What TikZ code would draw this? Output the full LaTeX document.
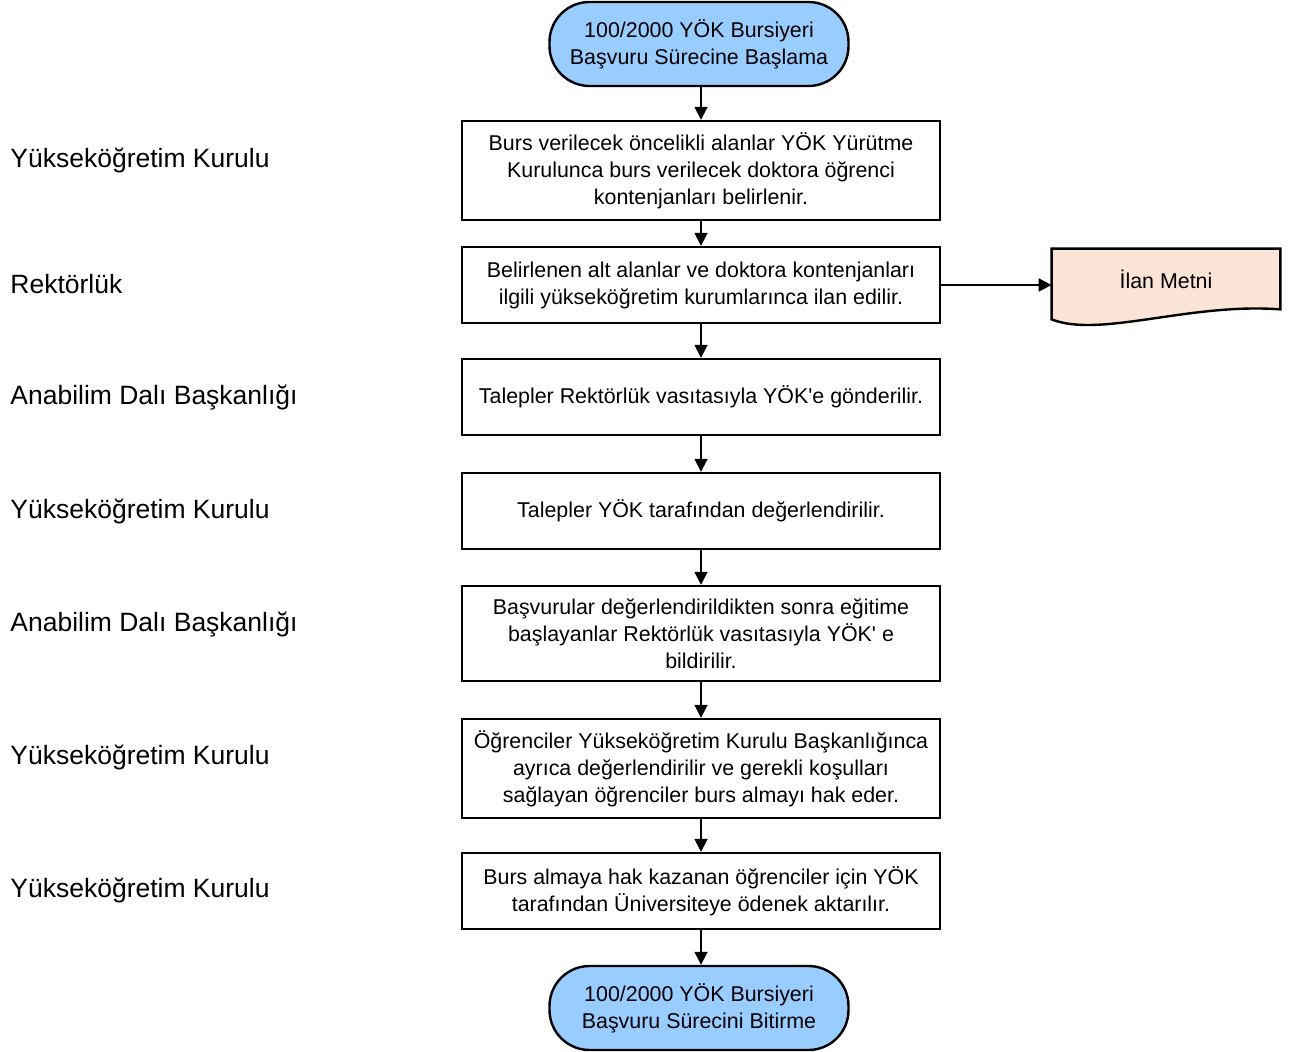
\documentclass[tikz,border=0pt]{standalone}
\usepackage{fontspec}
\setmainfont{Liberation Sans}[Ligatures=TeXOff]
\usetikzlibrary{arrows.meta}
\usetikzlibrary{backgrounds}
\usetikzlibrary{calc}
\definecolor{tblue}{RGB}{153, 204, 255}
\definecolor{dpeach}{RGB}{251, 228, 213}
\tikzset{stepbox/.style = {draw, line width=1.2pt, minimum width=239pt, align=center,
                           font=\fontsize{10.7}{13.5}\selectfont}}
\tikzset{term/.style = {draw, line width=1.2pt, fill=tblue, rounded corners=20pt,
                        minimum width=149.5pt, minimum height=42pt, align=center,
                        font=\fontsize{10.7}{13.5}\selectfont}}
\tikzset{docbox/.style = {minimum width=114pt, minimum height=30pt,
                          font=\fontsize{10.7}{13.5}\selectfont}}
\tikzset{unit/.style = {anchor=west, inner sep=0, font=\fontsize{13.25}{16}\selectfont}}
\tikzset{arr/.style = {-{Triangle[length=6.5pt, width=6.5pt]}, line width=0.9pt}}

\begin{document}
\begin{tikzpicture}[x=0.5pt, y=-0.5pt]
    \useasboundingbox (0, 0) rectangle (1290, 1052);

    % units on the left
    \node [unit] (u1) at (10, 160) {Yükseköğretim Kurulu};
    \node [unit] (u2) at (10, 284) {Rektörlük};
    \node [unit] (u3) at (10, 398) {Anabilim Dalı Başkanlığı};
    \node [unit] (u4) at (10, 511) {Yükseköğretim Kurulu};
    \node [unit] (u5) at (10, 625) {Anabilim Dalı Başkanlığı};
    \node [unit] (u6) at (10, 757) {Yükseköğretim Kurulu};
    \node [unit] (u7) at (10, 890) {Yükseköğretim Kurulu};

    % flow
    \node [term] (start) at (699, 44) {100/2000 YÖK Bursiyeri\\Başvuru Sürecine Başlama};
    \node [stepbox, minimum height=49.5pt] (b1) at (701, 170.5)
      {Burs verilecek öncelikli alanlar YÖK Yürütme\\Kurulunca burs verilecek doktora öğrenci\\kontenjanları belirlenir.};
    \node [stepbox, minimum height=38pt] (b2) at (701, 285)
      {Belirlenen alt alanlar ve doktora kontenjanları\\ilgili yükseköğretim kurumlarınca ilan edilir.};
    \node [stepbox, minimum height=38pt] (b3) at (701, 397)
      {Talepler Rektörlük vasıtasıyla YÖK'e gönderilir.};
    \node [stepbox, minimum height=38pt] (b4) at (701, 511)
      {Talepler YÖK tarafından değerlendirilir.};
    \node [stepbox, minimum height=47.5pt] (b5) at (701, 633.5)
      {Başvurular değerlendirildikten sonra eğitime\\başlayanlar Rektörlük vasıtasıyla YÖK' e\\bildirilir.};
    \node [stepbox, minimum height=49.5pt] (b6) at (701, 768.5)
      {Öğrenciler Yükseköğretim Kurulu Başkanlığınca\\ayrıca değerlendirilir ve gerekli koşulları\\sağlayan öğrenciler burs almayı hak eder.};
    \node [stepbox, minimum height=38pt] (b7) at (701, 891)
      {Burs almaya hak kazanan öğrenciler için YÖK\\tarafından Üniversiteye ödenek aktarılır.};
    \node [term] (stop) at (699, 1008) {100/2000 YÖK Bursiyeri\\Başvuru Sürecini Bitirme};

    % document
    \node [docbox] (ilan) at (1166, 279) {İlan Metni};
    \begin{scope}[on background layer]
      \draw [line width=1.2pt, fill=dpeach] (ilan.north west) -- (ilan.north east) -- (ilan.south east)
        .. controls +(-90, -7) and +(48, 19) .. ($(ilan.south west) + (0, 10)$) -- cycle;
    \end{scope}

    \draw [arr] (start.south -| b1.north) -- (b1.north);
    \draw [arr] (b1) -- (b2);
    \draw [arr] (b2) -- (b3);
    \draw [arr] (b3) -- (b4);
    \draw [arr] (b4) -- (b5);
    \draw [arr] (b5) -- (b6);
    \draw [arr] (b6) -- (b7);
    \draw [arr] (b7.south) -- (b7.south |- stop.north);
    \draw [arr] (b2.east) -- (b2.east -| ilan.west);

\end{tikzpicture}
\end{document}
